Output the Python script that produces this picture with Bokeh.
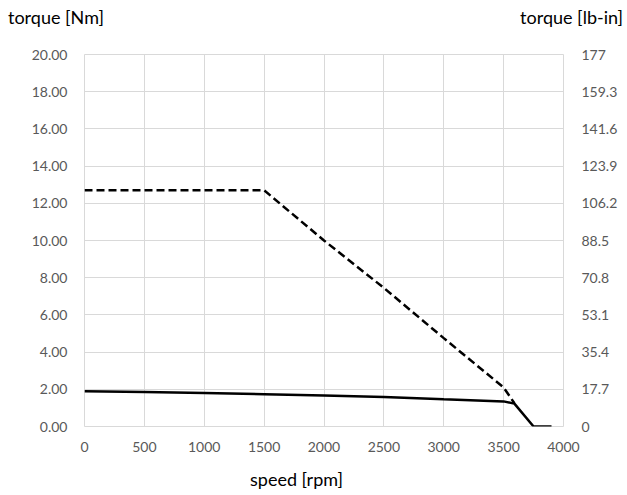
from bokeh.plotting import figure
from bokeh.models import Range1d, LinearAxis, FixedTicker, Div
from bokeh.layouts import column
from bokeh.embed import file_html
from bokeh.resources import INLINE

# data
peak_speed = [0, 1500, 2000, 2500, 3000, 3500, 3590]
peak_torque = [12.7, 12.7, 10.0, 7.45, 4.75, 2.1, 1.25]
cont_speed = [0, 500, 1000, 1500, 2000, 2500, 3000, 3500, 3590, 3750, 3900]
cont_torque = [1.9, 1.86, 1.8, 1.74, 1.67, 1.58, 1.46, 1.35, 1.23, 0.0, 0.0]
x_ticks = [0, 500, 1000, 1500, 2000, 2500, 3000, 3500, 4000]
y_ticks = [0, 2, 4, 6, 8, 10, 12, 14, 16, 18, 20]
lbin_ticks = [0, 17.7, 35.4, 53.1, 70.8, 88.5, 106.2, 123.9, 141.6, 159.3, 177]
lbin_labels = ["0", "17.7", "35.4", "53.1", "70.8", "88.5", "106.2", "123.9", "141.6", "159.3", "177"]
left_title = "torque [Nm]"
right_title = "torque [lb-in]"
x_title = "speed [rpm]"

FONT = "Lato"
TICK_COLOR = "#595959"
GRID = "#d9d9d9"

p = figure(width=627, height=428, output_backend="svg", toolbar_location=None,
           x_range=Range1d(0, 4000), y_range=Range1d(0, 20),
           min_border_left=84, min_border_right=64, min_border_top=20, min_border_bottom=36)
p.extra_y_ranges = {"lbin": Range1d(0, 177)}

p.outline_line_color = GRID
p.xgrid.grid_line_color = GRID
p.ygrid.grid_line_color = GRID
p.xaxis.ticker = FixedTicker(ticks=x_ticks)
p.yaxis.ticker = FixedTicker(ticks=y_ticks)
p.yaxis.major_label_overrides = {v: f"{v:.2f}" for v in y_ticks}

right = LinearAxis(y_range_name="lbin", ticker=FixedTicker(ticks=lbin_ticks))
right.major_label_overrides = {v: s for v, s in zip(lbin_ticks, lbin_labels)}
p.add_layout(right, "right")

for ax in [p.xaxis[0], p.yaxis[0], right]:
    ax.axis_line_color = None
    ax.major_tick_line_color = None
    ax.minor_tick_line_color = None
    ax.major_label_text_font = FONT
    ax.major_label_text_font_size = "14px"
    ax.major_label_text_color = TICK_COLOR
p.xaxis.major_label_standoff = 9
p.yaxis.major_label_standoff = 11
right.major_label_standoff = 12

p.line(peak_speed, peak_torque, line_color="black", line_width=2.5, line_dash="8 4")
p.line(cont_speed, cont_torque, line_color="black", line_width=2.5)

header = Div(
    text=(f'<div style="position:relative;width:627px;height:34px;font-family:Lato;'
          f'font-size:18px;line-height:34px;color:black;">'
          f'<span style="position:absolute;left:8px;top:0;">{left_title}</span>'
          f'<span style="position:absolute;right:4px;top:0;">{right_title}</span></div>'),
    width=627, height=34, margin=0)

footer = Div(
    text=(f'<div style="position:relative;width:627px;height:33px;font-family:Lato;'
          f'font-size:18px;line-height:34px;color:black;">'
          f'<span style="position:absolute;left:250px;top:0;">{x_title}</span></div>'),
    width=627, height=33, margin=0)

layout = column(header, p, footer, spacing=0)
open("out.html", "w").write(file_html(layout, INLINE))
